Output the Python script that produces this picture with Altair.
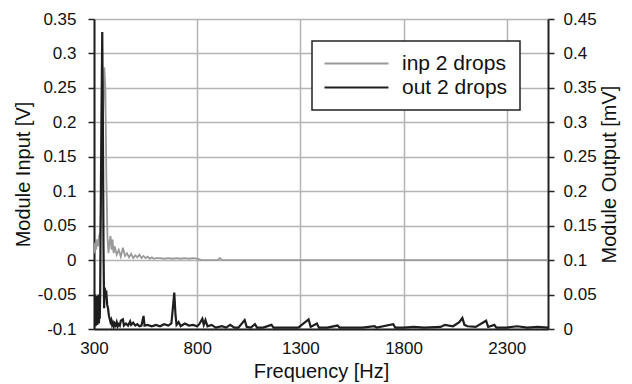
import altair as alt
import pandas as pd

# ---- data ----
inp_freq = [300, 305, 310, 315, 320, 325, 330, 335, 340, 345, 350, 355, 360, 365, 370, 375,
            380, 385, 390, 395, 400, 410, 420, 430, 440, 450, 460, 470, 480, 490, 500, 510,
            520, 530, 540, 550, 560, 570, 580, 590, 600, 620, 640, 660, 680, 700, 720, 740,
            760, 780, 800, 820, 900, 910, 920, 2500]
inp_val = [0.01, 0.025, 0.015, 0.03, 0.02, 0.035, 0.04, 0.08, 0.15, 0.22, 0.28, 0.25, 0.12, 0.035, 0.01, 0.025,
           0.035, 0.015, 0.03, 0.01, 0.02, 0.008, 0.015, 0.005, 0.018, 0.006, 0.01, 0.004, 0.009, 0.003, 0.007, 0.004,
           0.008, 0.003, 0.006, 0.003, 0.005, 0.002, 0.004, 0.002, 0.003, 0.003, 0.002, 0.003, 0.002, 0.003, 0.002, 0.003,
           0.002, 0.003, 0.002, 0.0, 0.0, 0.003, 0.0, 0.0]

out_freq = [300, 302, 304, 306, 308, 310, 312, 314, 316, 318, 320, 322, 324, 326, 328, 330,
            332, 336, 340, 343, 346, 349, 352, 356, 360, 364, 368, 372, 376, 380, 384, 388,
            392, 396, 400, 405, 410, 415, 420, 425, 430, 440, 445, 455, 465, 475, 480, 490,
            500, 510, 520, 530, 540, 545, 560, 580, 600, 620, 640, 660, 675, 682, 689, 695,
            700, 710, 720, 740, 760, 780, 800, 810, 825, 832, 840, 850, 870, 890, 920, 940,
            960, 980, 1000, 1030, 1040, 1060, 1080, 1090, 1120, 1160, 1170, 1200, 1250, 1290, 1340, 1350,
            1380, 1390, 1430, 1480, 1490, 1550, 1600, 1660, 1670, 1750, 1760, 1800, 1850, 1900, 1980, 2000,
            2040, 2070, 2085, 2095, 2110, 2150, 2200, 2210, 2240, 2250, 2300, 2350, 2400, 2450, 2500]
out_val = [0.0, 0.045, 0.008, 0.05, 0.004, 0.042, 0.01, 0.048, 0.006, 0.044, 0.012, 0.05, 0.008, 0.046, 0.015, 0.05,
           0.15, 0.3, 0.431, 0.3, 0.12, 0.03, 0.06, 0.05, 0.052, 0.035, 0.03, 0.02, 0.015, 0.01, 0.013, 0.006,
           0.009, 0.004, 0.008, 0.005, 0.01, 0.004, 0.007, 0.005, 0.012, 0.014, 0.005, 0.008, 0.005, 0.011, 0.006, 0.009,
           0.005, 0.007, 0.004, 0.005, 0.019, 0.005, 0.006, 0.004, 0.006, 0.004, 0.007, 0.005, 0.008, 0.03, 0.053, 0.02,
           0.006, 0.01, 0.004, 0.008, 0.005, 0.006, 0.004, 0.007, 0.015, 0.006, 0.013, 0.004, 0.006, 0.002, 0.004, 0.002,
           0.006, 0.002, 0.002, 0.013, 0.003, 0.002, 0.007, 0.002, 0.002, 0.006, 0.002, 0.002, 0.002, 0.002, 0.014, 0.003,
           0.008, 0.002, 0.002, 0.005, 0.002, 0.002, 0.002, 0.004, 0.002, 0.007, 0.002, 0.002, 0.003, 0.002, 0.003, 0.006,
           0.004, 0.01, 0.016, 0.006, 0.004, 0.003, 0.012, 0.003, 0.006, 0.002, 0.002, 0.004, 0.002, 0.003, 0.002]

series_names = ["inp 2 drops", "out 2 drops"]
x_ticks = [300, 800, 1300, 1800, 2300]
left_ticks = [-0.1, -0.05, 0, 0.05, 0.1, 0.15, 0.2, 0.25, 0.3, 0.35]
right_ticks = [0, 0.05, 0.1, 0.15, 0.2, 0.25, 0.3, 0.35, 0.4, 0.45]

df_in = pd.DataFrame({"freq": inp_freq, "value": inp_val, "series": series_names[0]})
df_out = pd.DataFrame({"freq": out_freq, "value": out_val, "series": series_names[1]})

FONT = "Liberation Sans"
TXT = "#111111"
label_expr = "datum.value < 0 ? '-' + format(-datum.value, '~g') : format(datum.value, '~g')"

color = alt.Color(
    "series:N",
    scale=alt.Scale(domain=series_names, range=["#9a9a9a", "#1e1e1e"]),
    legend=alt.Legend(
        title=None, orient="none", legendX=218, legendY=22,
        fillColor="white", strokeColor="#222222", padding=12,
        symbolType="M-1.43,0H7.71", symbolSize=196, symbolStrokeWidth=2,
        labelFont=FONT, labelFontSize=21, labelColor=TXT,
        labelExpr="datum.label + '\u2009\u2009'",
        rowPadding=2, labelOffset=57,
    ),
)

x = alt.X(
    "freq:Q",
    scale=alt.Scale(domain=[300, 2500], nice=False, zero=False),
    axis=alt.Axis(
        values=x_ticks, format="d", labelFlush=False,
        title="Frequency [Hz]", grid=True, gridColor="#b4b4b4", gridWidth=1.5,
        domainColor="#222222", domainWidth=2, ticks=False, labelPadding=11,
        labelFont=FONT, labelFontSize=17, labelColor=TXT,
        titleFont=FONT, titleFontSize=20, titleFontWeight="normal", titleColor=TXT, titlePadding=5,
    ),
)

gray = alt.Chart(df_in).mark_line(strokeWidth=1.8, clip=True).encode(
    x=x,
    y=alt.Y(
        "value:Q",
        scale=alt.Scale(domain=[-0.1, 0.35], nice=False, zero=False),
        axis=alt.Axis(
            orient="left", values=left_ticks, title="Module Input [V]", grid=True,
            gridColor="#b4b4b4", gridWidth=1.5, labelExpr=label_expr,
            domainColor="#222222", domainWidth=2, tickColor="#222222", tickSize=6, tickWidth=1.5,
            labelFont=FONT, labelFontSize=17, labelColor=TXT, labelPadding=12,
            titleFont=FONT, titleFontSize=20, titleFontWeight="normal", titleColor=TXT, titlePadding=4,
        ),
    ),
    color=color,
)

black = alt.Chart(df_out).mark_line(strokeWidth=2.2, clip=True).encode(
    x=x,
    y=alt.Y(
        "value:Q",
        scale=alt.Scale(domain=[0, 0.45], nice=False, zero=False),
        axis=alt.Axis(
            orient="right", values=right_ticks, title="Module Output [mV]", grid=False,
            labelExpr=label_expr, titleAngle=270, titleBaseline="top",
            domainColor="#222222", domainWidth=2, tickColor="#222222", tickSize=6, tickWidth=1.5,
            labelFont=FONT, labelFontSize=17, labelColor=TXT, labelPadding=9,
            titleFont=FONT, titleFontSize=20, titleFontWeight="normal", titleColor=TXT, titlePadding=3,
        ),
    ),
    color=color,
)

chart = (
    alt.layer(gray, black)
    .resolve_scale(y="independent")
    .properties(
        width=454, height=310,
        autosize=alt.AutoSizeParams(type="none"),
        padding={"left": 94, "top": 19, "right": 84, "bottom": 55},
        background="white",
    )
    .configure_view(stroke=None)
    .configure_legend(strokeWidth=1.5)
)

chart.save("out.html", embed_options={"renderer": "svg", "actions": False})
